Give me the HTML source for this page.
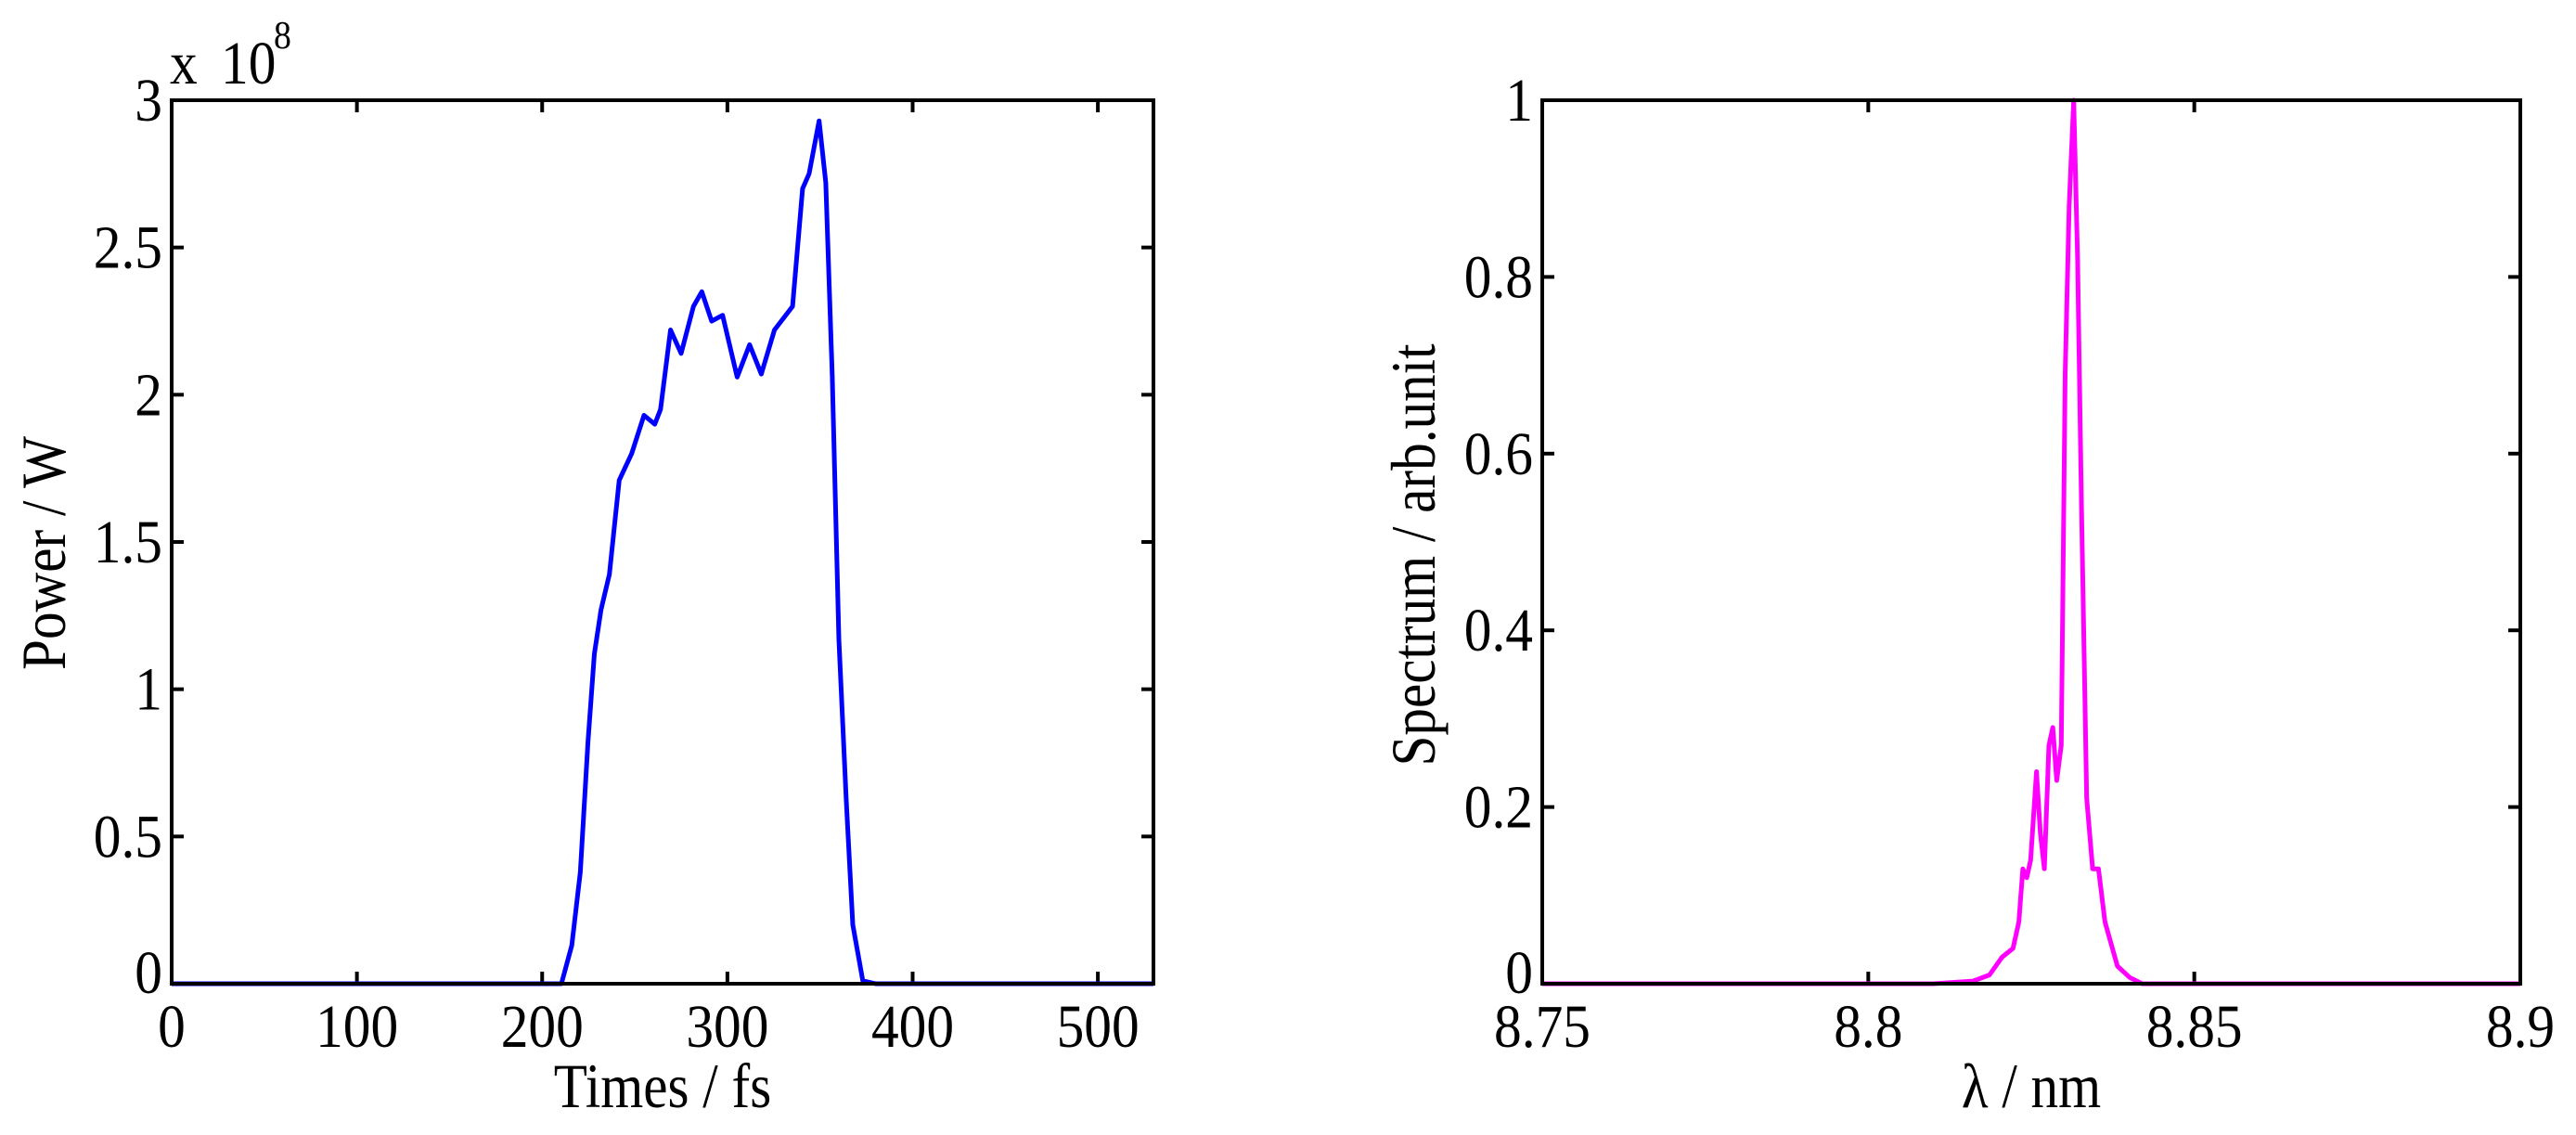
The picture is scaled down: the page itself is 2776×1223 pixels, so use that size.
<!DOCTYPE html>
<html><head><meta charset="utf-8"><style>
html,body{margin:0;padding:0;background:#fff;}
svg{display:block;}
text{font-family:"Liberation Serif",serif;fill:#000;}
</style></head><body>
<svg id="fig" width="2776" height="1223" viewBox="0 0 2776 1223" xmlns="http://www.w3.org/2000/svg">
<g id="left"></g>
<g id="right"></g>
</svg>
<script>
// Left chart data (time fs, power x1e8 W)
const timeValues = [0,200,210.4,216,220.6,224.7,228.2,231.8,236.3,241.6,248.3,255,260.8,263.9,269.3,275,281.7,286.2,291.5,297.4,305.3,312,318.3,325.4,335.2,340.6,344.1,349.5,353.1,356.6,360.2,364.2,367.7,373.1,380,530];
const powerValues = [0,0,0,0.13,0.38,0.82,1.12,1.27,1.39,1.71,1.80,1.93,1.90,1.95,2.22,2.14,2.30,2.35,2.25,2.27,2.06,2.17,2.07,2.22,2.30,2.70,2.75,2.93,2.72,2.06,1.17,0.62,0.20,0.01,0,0];
const timeTicks = [0,100,200,300,400,500];
const powerTicks = [0,0.5,1,1.5,2,2.5,3];
const powerTickLabels = ["0","0.5","1","1.5","2","2.5","3"];
// Right chart data (wavelength nm, spectrum)
const lambdaValues = [8.75,8.81,8.8161,8.8186,8.8205,8.8222,8.8231,8.8237,8.8243,8.8249,8.8258,8.8264,8.827,8.8277,8.8283,8.8289,8.8296,8.8302,8.8308,8.8315,8.8321,8.8327,8.8335,8.8344,8.8353,8.8363,8.8382,8.8401,8.842,8.9];
const spectrumValues = [0,0,0.003,0.01,0.03,0.04,0.07,0.13,0.12,0.14,0.24,0.17,0.13,0.27,0.29,0.23,0.27,0.69,0.88,1.0,0.82,0.54,0.21,0.13,0.13,0.07,0.02,0.007,0,0];
const lambdaTicks = [8.75,8.8,8.85,8.9];
const lambdaTickLabels = ["8.75","8.8","8.85","8.9"];
const specTicks = [0,0.2,0.4,0.6,0.8,1];
const specTickLabels = ["0","0.2","0.4","0.6","0.8","1"];

const NS="http://www.w3.org/2000/svg";
function mk(tag, parent, attrs){const e=document.createElementNS(NS,tag);for(const k in attrs)e.setAttribute(k,attrs[k]);parent.appendChild(e);return e;}
function txt(parent, x, y, size, anchor, str, rot, sx){
  const t=mk('text',parent,{x:0,y:0,'font-size':size,'text-anchor':anchor,
    transform:'translate('+x+','+y+')'+(rot?' rotate(-90)':'')+' scale('+(sx||0.9)+',1)'});
  t.textContent=str;
  return t;
}

function chart(g, box, xr, yr, xs, ys, xt, xtl, yt, ytl, color, xlabel, ylabel, prefix){
  const X=v=>box.l+(v-xr[0])/(xr[1]-xr[0])*(box.r-box.l);
  const Y=v=>box.b-(v-yr[0])/(yr[1]-yr[0])*(box.b-box.t);
  xt.forEach((v,i)=>{
    const x=X(v);
    const t1=mk('line',g,{x1:x,x2:x,y1:box.b,y2:box.b-13,stroke:'#000','stroke-width':4});
    
    
    const t2=mk('line',g,{x1:x,x2:x,y1:box.t,y2:box.t+13,stroke:'#000','stroke-width':4});
    
    
    const tx=txt(g,x,1128,66,'middle',xtl[i]);
    
    
  });
  yt.forEach((v,i)=>{
    const y=Y(v);
    const t1=mk('line',g,{x1:box.l,x2:box.l+13,y1:y,y2:y,stroke:'#000','stroke-width':4});
    
    
    const t2=mk('line',g,{x1:box.r,x2:box.r-13,y1:y,y2:y,stroke:'#000','stroke-width':4});
    
    
    const ty=txt(g,box.l-10,(i===0?y+10:y+22),66,'end',ytl[i]);
    
    
  });
  const pts=xs.map((v,i)=>X(v).toFixed(1)+','+Y(ys[i]).toFixed(1)).join(' ');
  const line=mk('polyline',g,{points:pts,fill:'none',stroke:color,'stroke-width':5,'stroke-linejoin':'round'});
  
  
  const frame=mk('rect',g,{x:box.l,y:box.t,width:box.r-box.l,height:box.b-box.t,fill:'none',stroke:'#000','stroke-width':4});
  
  
  const xl=txt(g,(box.l+box.r)/2,1193,68,'middle',xlabel,false,0.87);
  
  
  const yl=txt(g,box.yl,box.ylc,68,'middle',ylabel,true,0.87);
  
  
}
const L=document.getElementById('left'), R=document.getElementById('right');
chart(L,{l:185,r:1243,t:108,b:1060,yl:70,ylc:596},[0,530],[0,3],timeValues,powerValues,timeTicks,timeTicks.map(String),powerTicks,powerTickLabels,'#0000ff','Times / fs','Power / W','power');
chart(R,{l:1662,r:2716,t:108,b:1060,yl:1546,ylc:598},[8.75,8.9],[0,1],lambdaValues,spectrumValues,lambdaTicks,lambdaTickLabels,specTicks,specTickLabels,'#ff00ff','λ / nm','Spectrum / arb.unit','spectrum');
const ex=txt(L,183,90,66,'start','x');


const ex2=txt(L,238,90,66,'start','10');


const sup=txt(L,295,52,42,'start','8');


</script>
</body></html>
